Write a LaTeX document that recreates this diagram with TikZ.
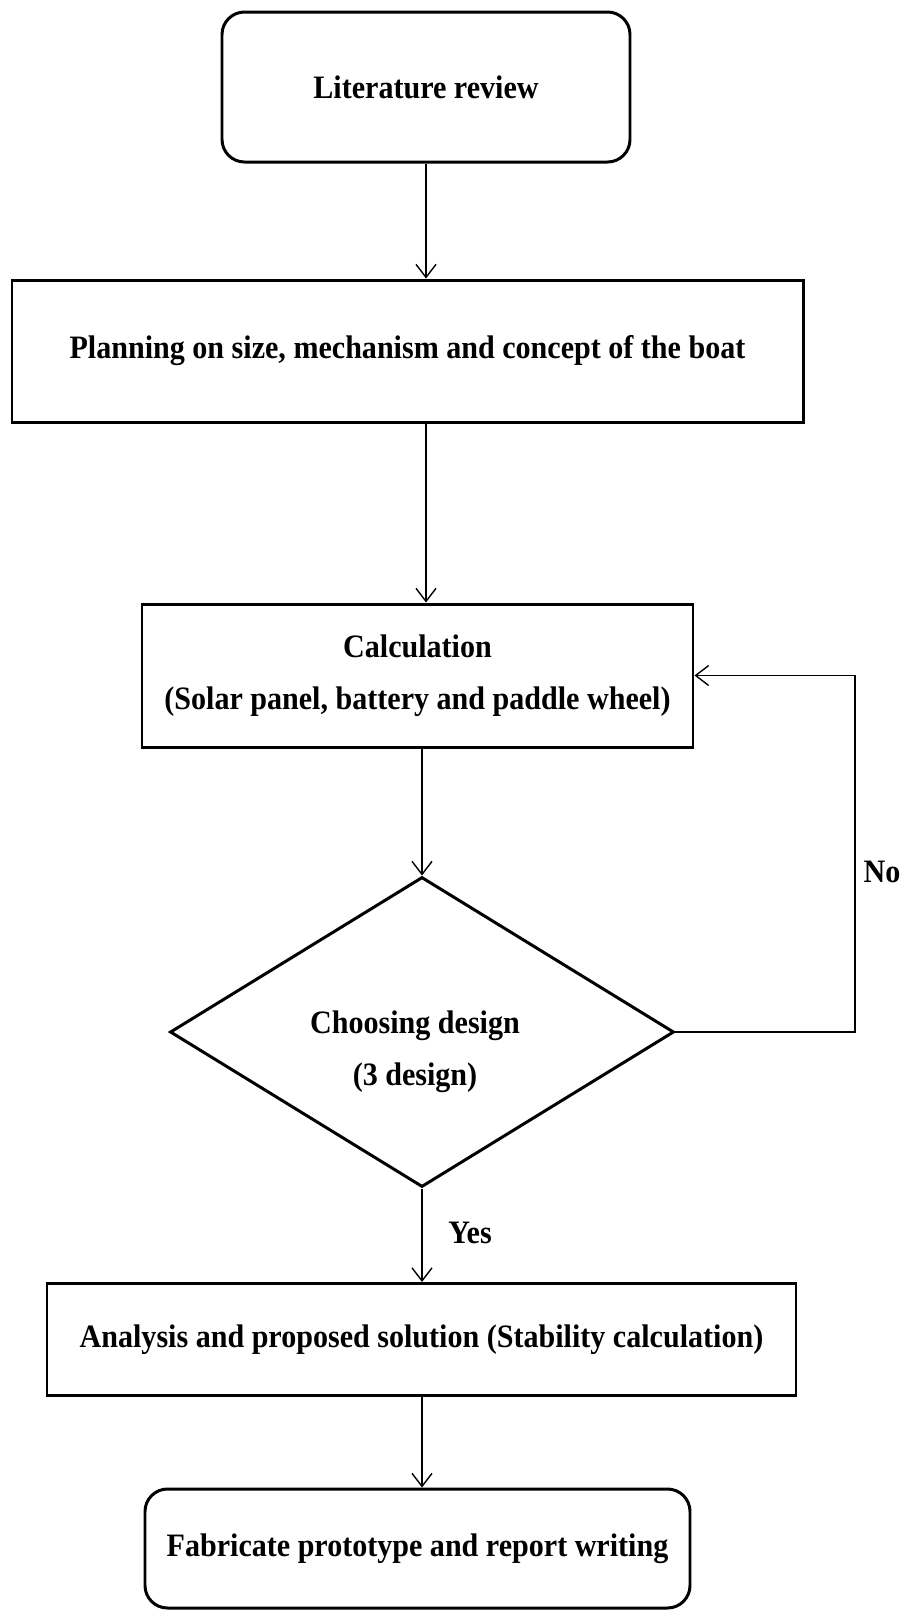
\documentclass[tikz,border=0pt]{standalone}
\usepackage{fontspec}
\setmainfont{Liberation Serif}[FakeStretch=0.92]
\usetikzlibrary{positioning}
\usetikzlibrary{shapes.geometric}
\usetikzlibrary{arrows.meta}

\newcommand{\flowfont}{\fontsize{18.6pt}{29.5pt}\selectfont\bfseries}

\tikzset{
  box/.style={draw, line width=1.7pt, inner sep=0pt, align=center},
  roundbox/.style={box, rounded corners=0.45cm},
  decision/.style={draw, diamond, line width=1.7pt, inner sep=0pt},
  flow/.style={line width=0.8pt, -{Straight Barb[length=0.26cm,width=0.4cm]}}
}

\begin{document}
\begin{tikzpicture}[font=\flowfont]
        \useasboundingbox (0,0) rectangle (18.1,-32.2);
        % steps
        \node[roundbox, minimum width=8.16cm, minimum height=3cm] (lit) at (8.52,-1.74) {Literature review};
        \node[box, minimum width=15.82cm, minimum height=2.84cm] (plan) at (8.15,-7.02) {Planning on size, mechanism and concept of the boat};
        \node[box, minimum width=11.02cm, minimum height=2.86cm] (calc) at (8.35,-13.51) {Calculation\\(Solar panel, battery and paddle wheel)};
        \node[decision, minimum width=10.08cm, minimum height=6.2cm] (choose) at (8.44,-20.64) {};
        \node[align=center] (choosetxt) at (8.3,-21.04) {Choosing design\\(3 design)};
        \node[box, minimum width=14.98cm, minimum height=2.24cm] (anal) at (8.43,-26.79) {Analysis and proposed solution (Stability calculation)};
        \node[roundbox, minimum width=10.9cm, minimum height=2.38cm] (fab) at (8.35,-30.97) {Fabricate prototype and report writing};
        \coordinate (loop) at (17.1,-20.64);
        % arrows
        \draw[flow] (lit.south) -- (lit.south |- plan.north);
        \draw[flow] (plan.south -| lit.south) -- (calc.north -| lit.south);
        \draw[flow] (calc.south -| choose.north) -- (choose.north);
        \draw[flow] (choose.south) -- (choose.south |- anal.north);
        \draw[flow] (anal.south -| choose.south) -- (fab.north -| choose.south);
        \draw[flow] (choose.east) -- (loop) |- (calc.east);
        \node (yes) at (9.4,-24.66) {Yes};
        \node (no) at (17.64,-17.44) {No};
    \end{tikzpicture}
\end{document}
